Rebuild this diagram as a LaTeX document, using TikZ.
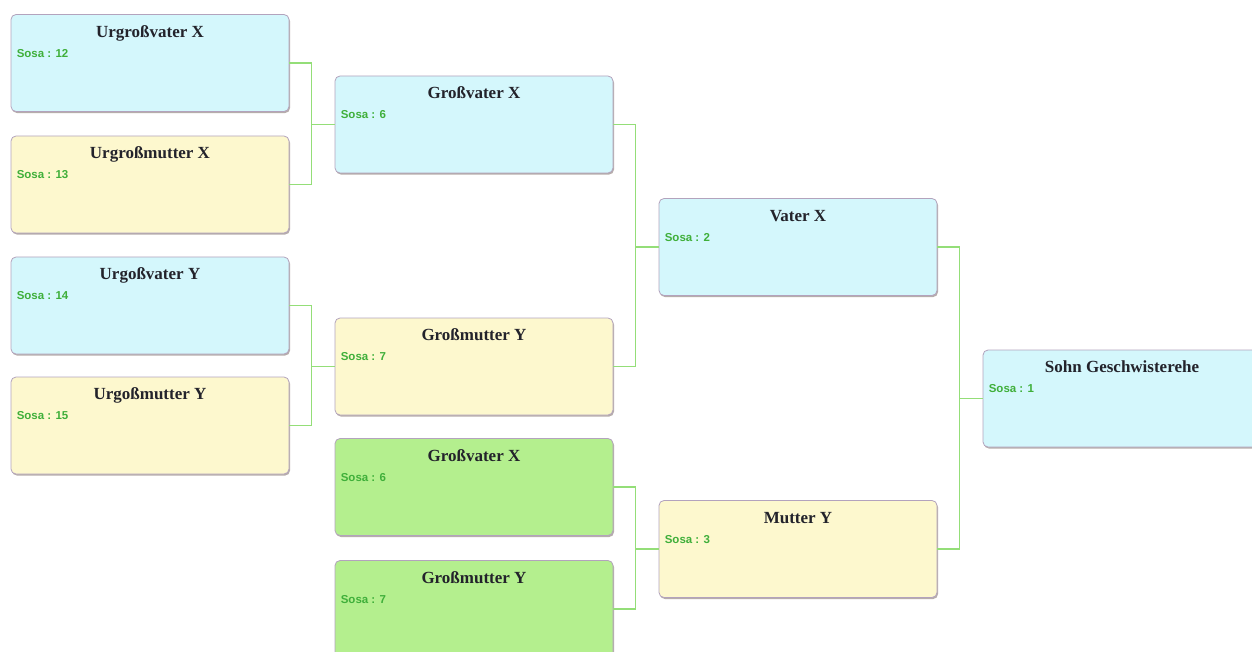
\documentclass[tikz,border=0pt]{standalone}
\usepackage{fontspec}
\setmainfont{Liberation Serif}
\newfontfamily\sosafont{Liberation Sans}
\usepackage{tikz}
\usetikzlibrary{shadows}
\definecolor{hellblau}{HTML}{D4F7FC}
\definecolor{hellgelb}{HTML}{FDF8CE}
\definecolor{hellgruen}{HTML}{B4EF8E}
\definecolor{randlila}{HTML}{B3A3BD}
\definecolor{schatten}{HTML}{7A6A66}
\definecolor{linie}{HTML}{94DE78}
\definecolor{sosagruen}{HTML}{3FAF3A}
\definecolor{titel}{HTML}{23232B}
\tikzset{
  pers/.style = {rectangle, rounded corners=5pt, draw=randlila, line width=0.8pt, minimum width=278pt, minimum height=97pt, inner sep=0pt,
                 drop shadow={shadow xshift=1pt, shadow yshift=-1.6pt, opacity=0.55, fill=schatten}},
  pers_m/.style = {pers, fill=hellblau},
  pers_f/.style = {pers, fill=hellgelb},
  pers_g/.style = {pers, fill=hellgruen},
  ttl/.style = {anchor=base, yshift=-23pt, inner sep=0pt, text=titel, font=\fontsize{17}{19}\selectfont\bfseries},
  sosa/.style = {anchor=base west, xshift=6pt, yshift=-43pt, inner sep=0pt, text=sosagruen, font=\sosafont\fontsize{11.5}{13}\selectfont\bfseries},
  conn/.style = {draw=linie, line width=1.1pt},
}

\begin{document}
\begin{tikzpicture}[x=1pt, y=-1pt]
  \useasboundingbox (0,0) rectangle (1252,652);

  % Urgrosseltern
  \node [pers_m, label={[ttl]north:Urgroßvater X}, label={[sosa]north west:Sosa : 12}] (ugvx) at (150,63) {};
  \node [pers_f, label={[ttl]north:Urgroßmutter X}, label={[sosa]north west:Sosa : 13}] (ugmx) at (150,184.5) {};
  \node [pers_m, label={[ttl]north:Urgoßvater Y}, label={[sosa]north west:Sosa : 14}] (ugvy) at (150,305.5) {};
  \node [pers_f, label={[ttl]north:Urgoßmutter Y}, label={[sosa]north west:Sosa : 15}] (ugmy) at (150,425.5) {};

  % Grosseltern
  \node [pers_m, label={[ttl]north:Großvater X}, label={[sosa]north west:Sosa : 6}] (gvx) at (474,124.5) {};
  \node [pers_f, label={[ttl]north:Großmutter Y}, label={[sosa]north west:Sosa : 7}] (gmy) at (474,366.5) {};
  \node [pers_g, label={[ttl]north:Großvater X}, label={[sosa]north west:Sosa : 6}] (gvx2) at (474,487) {};
  \node [pers_g, label={[ttl]north:Großmutter Y}, label={[sosa]north west:Sosa : 7}] (gmy2) at (474,609) {};

  % Eltern
  \node [pers_m, label={[ttl]north:Vater X}, label={[sosa]north west:Sosa : 2}] (vx) at (798,247) {};
  \node [pers_f, label={[ttl]north:Mutter Y}, label={[sosa]north west:Sosa : 3}] (my) at (798,549) {};

  % Proband
  \node [pers_m, label={[ttl]north:Sohn Geschwisterehe}, label={[sosa]north west:Sosa : 1}] (sohn) at (1122,398.5) {};

  \foreach \p/\a/\b in {gvx/ugvx/ugmx, gmy/ugvy/ugmy, vx/gvx/gmy, my/gvx2/gmy2, sohn/vx/my}
    \draw [conn] (\a.east) -| ([xshift=-23pt]\p.west) |- (\b.east)
                 ([xshift=-23pt]\p.west) -- (\p.west);
\end{tikzpicture}
\end{document}
